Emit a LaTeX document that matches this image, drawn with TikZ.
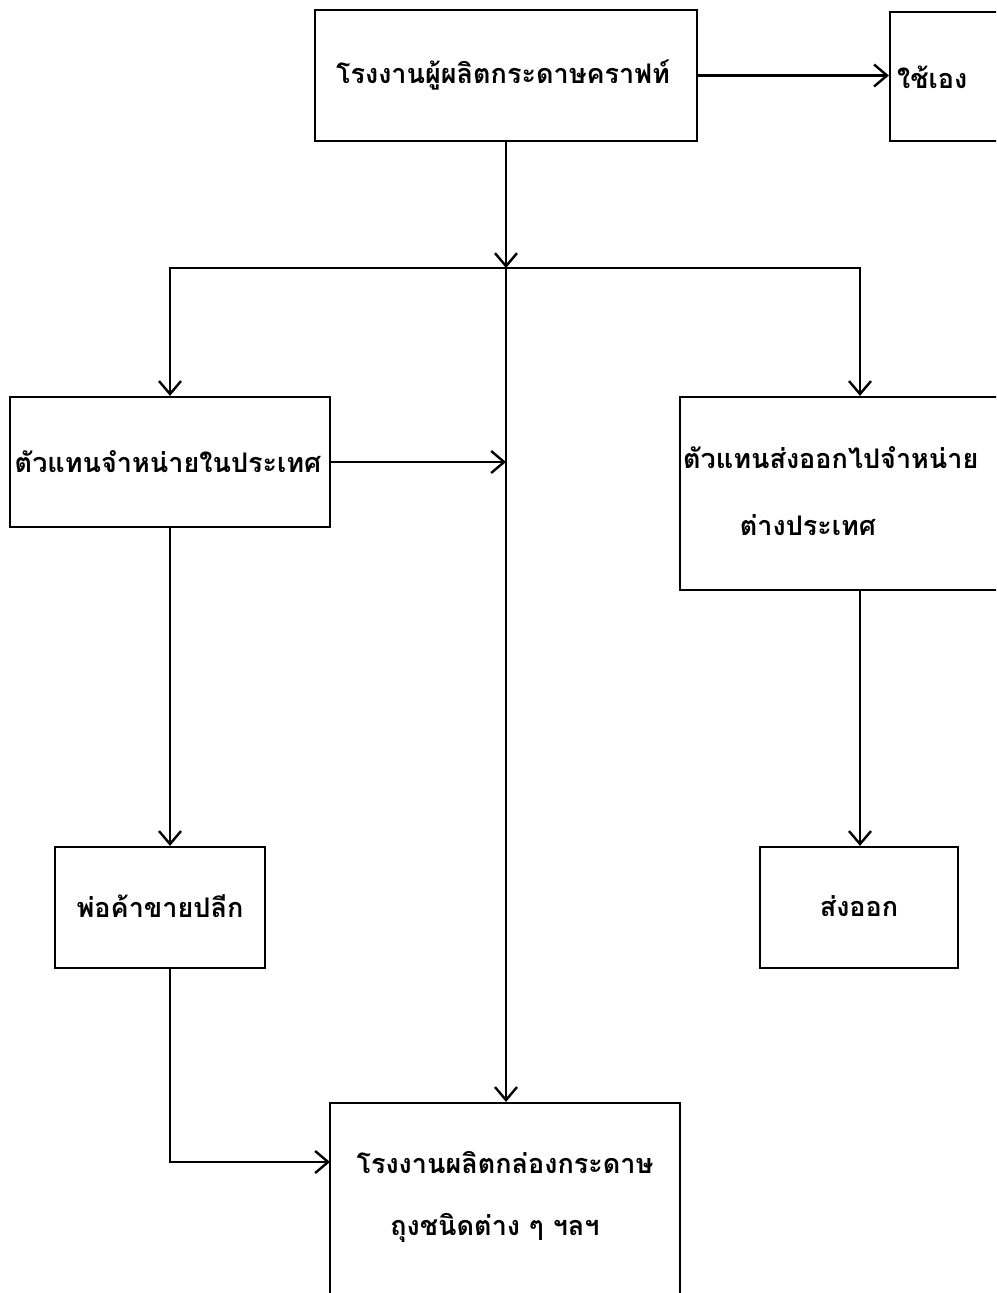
\documentclass[tikz,border=0pt]{standalone}
\usepackage{fontspec}
\newfontfamily\thaifont[Script=Thai]{Loma}
\usetikzlibrary{arrows.meta}
\begin{document}
\begin{tikzpicture}[x=1pt,y=-1pt,
  box/.style={draw,line width=2.2pt,rectangle,inner sep=0pt},
  lbl/.style={font=\thaifont\bfseries\fontsize{27}{31}\selectfont,inner sep=0pt},
  link/.style={line width=2.2pt},
  arr/.style={link,-{Straight Barb[length=13pt,width=22pt,line width=2.4pt]}}]
\clip (0,0) rectangle (996,1293);
\fill[white] (0,0) rectangle (996,1293);
% boxes
\node[box,minimum width=382pt,minimum height=131pt] (src) at (506,75.5) {};
\node[box,minimum width=150pt,minimum height=129pt] (self) at (965,76.5) {};
\node[box,minimum width=320pt,minimum height=130pt] (dom) at (170,462) {};
\node[box,minimum width=360pt,minimum height=193pt] (exp) at (860,493.5) {};
\node[box,minimum width=210pt,minimum height=121pt] (ret) at (160,907.5) {};
\node[box,minimum width=198pt,minimum height=121pt] (out) at (859,907.5) {};
\node[box,minimum width=350pt,minimum height=220pt] (fac) at (505,1213) {};
% texts
\node[lbl] (tsrc) at (503,75) {โรงงานผู้ผลิตกระดาษคราฟท์};
\node[lbl,anchor=west] (tself) at (897,77) {ใช้เอง};
\node[lbl] (tdom) at (168,462) {ตัวแทนจำหน่ายในประเทศ};
\node[lbl,anchor=west] (texp1) at (683,458) {ตัวแทนส่งออกไปจำหน่าย};
\node[lbl] (texp2) at (808,525) {ต่างประเทศ};
\node[lbl] (tret) at (160,906) {พ่อค้าขายปลีก};
\node[lbl] (tout) at (859,906) {ส่งออก};
\node[lbl] (tfac1) at (505,1162) {โรงงานผลิตกล่องกระดาษ};
\node[lbl] (tfac2) at (495,1228) {ถุงชนิดต่าง ๆ ฯลฯ};
% coordinates
\coordinate (J) at (506,268);
\coordinate (facin) at (330,1162);
% connectors
\draw[arr] (src.east) -- (src.east -| self.west);
\draw[arr] (src.south) -- (J);
\draw[arr] (J) -- (J |- fac.north);
\draw[arr] (J) -| (dom.north);
\draw[arr] (J) -| (exp.north);
\draw[arr] (dom.east) -- (dom.east -| J);
\draw[arr] (dom.south) -- (dom.south |- ret.north);
\draw[arr] (exp.south) -- (exp.south |- out.north);
\draw[arr] (dom.south |- ret.south) |- (facin);
\end{tikzpicture}
\end{document}
